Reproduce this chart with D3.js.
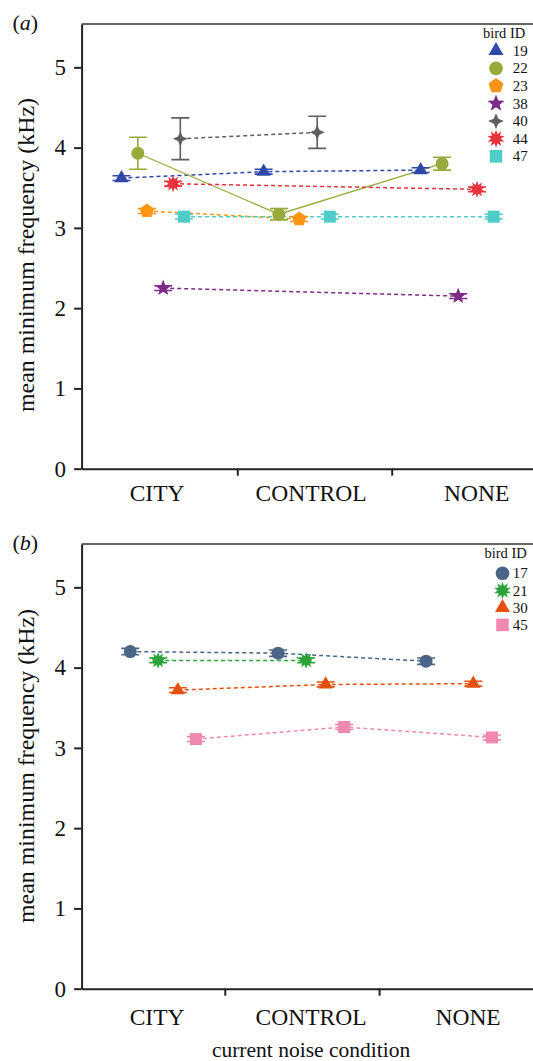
<!DOCTYPE html>
<html>
<head>
<meta charset="utf-8">
<script src="https://cdn.jsdelivr.net/npm/d3@7"></script>
<style>
  body { margin: 0; background: #fff; }
  svg { display: block; font-family: "Liberation Serif", "Times New Roman", serif; }
</style>
</head>
<body>
<svg id="chart" width="533" height="1061"></svg>
<script>
"use strict";

// ---- data ----
const categories = ["CITY", "CONTROL", "NONE"];
const yTicks = [0, 1, 2, 3, 4, 5];

// panel (a)
const birdsA = ["19", "22", "23", "38", "40", "44", "47"];
const meansA = [
  [3.62, 3.70, 3.72],
  [3.93, 3.17, 3.80],
  [3.21, 3.11, null],
  [2.25, null, 2.15],
  [4.11, 4.19, null],
  [3.55, null, 3.48],
  [3.14, 3.14, 3.14],
];
const errorsA = [
  [0.03, 0.03, 0.03],
  [0.20, 0.07, 0.08],
  [0.03, 0.03, null],
  [0.03, null, 0.03],
  [0.26, 0.20, null],
  [0.03, null, 0.03],
  [0.03, 0.03, 0.03],
];

// panel (b)
const birdsB = ["17", "21", "30", "45"];
const meansB = [
  [4.20, 4.18, 4.08],
  [4.09, 4.09, null],
  [3.72, 3.79, 3.80],
  [3.11, 3.26, 3.13],
];
const errorsB = [
  [0.04, 0.04, 0.04],
  [0.03, 0.03, null],
  [0.03, 0.03, 0.03],
  [0.03, 0.03, 0.03],
];

// ---- look ----
// horizontal jitter of each point inside its category (category units)
const jitterA = [
  [-0.231, -0.308, -0.288],
  [-0.125, -0.209, -0.149],
  [-0.066, -0.077, 0],
  [0.040, 0, -0.044],
  [0.151, 0.040, 0],
  [0.104, 0, 0.078],
  [0.175, 0.122, 0.186],
];
const jitterB = [
  [-0.174, -0.214, -0.253],
  [0.007, -0.032, 0],
  [0.135, 0.095, 0.054],
  [0.252, 0.215, 0.175],
];

const colorsA = ["#3049a8", "#99aa3d", "#ff9512", "#7c2c86", "#5f5f5f", "#e8333d", "#4fcbc8"];
const shapesA = ["triangle", "circle", "pentagon", "star", "star4", "burst", "square"];
const colorsB = ["#4a6585", "#2ca33a", "#e5500f", "#ef8aae"];
const shapesB = ["circle", "burst", "triangle", "square"];

function polyPath(n, r) {
  const pts = d3.range(n).map((i) => {
    const a = -Math.PI / 2 + (i * 2 * Math.PI) / n;
    return [r * Math.cos(a), r * Math.sin(a)];
  });
  return "M" + pts.join("L") + "Z";
}

function starPath(n, outer, inner) {
  const pts = d3.range(n * 2).map((i) => {
    const a = -Math.PI / 2 + (i * Math.PI) / n;
    const r = i % 2 === 0 ? outer : inner;
    return [r * Math.cos(a), r * Math.sin(a)];
  });
  return "M" + pts.join("L") + "Z";
}

const shapePath = {
  triangle: (s) => polyPath(3, 8.2 * s),
  circle: (s) => d3.symbol(d3.symbolCircle, Math.PI * Math.pow(6.5 * s, 2))(),
  pentagon: (s) => polyPath(5, 7.5 * s),
  star: (s) => starPath(5, 8.5 * s, 3.6 * s),
  star4: (s) => starPath(4, 7.5 * s, 3.2 * s),
  burst: (s) => starPath(10, 8.5 * s, 4.6 * s),
  square: (s) => d3.symbol(d3.symbolSquare, Math.pow(12 * s, 2))(),
};

const svg = d3.select("#chart");
const x = d3.scaleLinear().domain([0.51, 3.5]).range([81.6, 542]);

function drawPanel(p) {
  const y = d3.scaleLinear().domain([0, 5.54]).range([p.bottom, p.top]);
  const g = svg.append("g");

  // top frame line
  g.append("line")
    .attr("x1", x(0.51)).attr("x2", 533)
    .attr("y1", p.top).attr("y2", p.top)
    .attr("stroke", "#333").attr("stroke-width", 1.6);

  // y axis
  const yAxis = g.append("g")
    .attr("transform", `translate(${x(0.51)},0)`)
    .call(d3.axisLeft(y).tickValues(yTicks).tickFormat(d3.format("d"))
      .tickSize(7.5).tickPadding(8).tickSizeOuter(0));
  yAxis.attr("font-family", null);
  yAxis.select(".domain").attr("stroke", "#222").attr("stroke-width", 2);
  yAxis.selectAll(".tick line").attr("stroke", "#222").attr("stroke-width", 2);
  yAxis.selectAll(".tick text").attr("font-size", 23).attr("fill", "#111");

  // x axis: ticks between categories
  const xAxis = g.append("g")
    .attr("transform", `translate(0,${p.bottom})`)
    .call(d3.axisBottom(x).tickValues(p.sepTicks).tickSize(7).tickFormat("").tickSizeOuter(0));
  xAxis.select(".domain").attr("stroke", "#222").attr("stroke-width", 2);
  xAxis.selectAll(".tick line").attr("stroke", "#222").attr("stroke-width", 2);

  g.selectAll(".cat")
    .data(categories)
    .enter()
    .append("text")
    .attr("x", (d, i) => x(p.labelPos[i]))
    .attr("y", p.bottom + p.labelDy)
    .attr("text-anchor", "middle")
    .attr("font-size", 23.5)
    .attr("fill", "#111")
    .text((d) => d);

  // y title
  g.append("text")
    .attr("transform", `translate(34,${p.titleY}) rotate(-90)`)
    .attr("text-anchor", "middle")
    .attr("font-size", 23)
    .attr("textLength", 314)
    .attr("lengthAdjust", "spacingAndGlyphs")
    .attr("fill", "#111")
    .text("mean minimum frequency (kHz)");

  // panel label
  const lab = g.append("text")
    .attr("x", 12.5).attr("y", p.labelY)
    .attr("font-size", 22).attr("fill", "#111");
  lab.append("tspan").text("(");
  lab.append("tspan").attr("font-style", "italic").text(p.label);
  lab.append("tspan").text(")");

  // series
  const series = p.birds.map((id, b) => ({
    id,
    color: p.colors[b],
    shape: p.shapes[b],
    solid: p.solid.includes(id),
    pts: categories
      .map((c, i) => ({
        xv: i + 1 + p.jitter[b][i],
        mean: p.means[b][i],
        se: p.errors[b][i],
      }))
      .filter((d) => d.mean !== null),
  }));

  const line = d3.line().x((d) => x(d.xv)).y((d) => y(d.mean));

  g.append("g")
    .selectAll("path")
    .data(series)
    .enter()
    .append("path")
    .attr("d", (s) => line(s.pts))
    .attr("fill", "none")
    .attr("stroke", (s) => s.color)
    .attr("stroke-width", (s) => (s.solid ? 1.3 : 1.5))
    .attr("stroke-dasharray", (s) => (s.solid ? null : "4,3"));

  const sg = g.append("g")
    .selectAll("g")
    .data(series)
    .enter()
    .append("g");

  const eb = sg.selectAll(".eb")
    .data((s) => s.pts.map((d) => ({ ...d, color: s.color, shape: s.shape })))
    .enter()
    .append("g");

  eb.append("path")
    .attr("d", (d) => {
      const cx = x(d.xv), hi = y(d.mean + d.se), lo = y(d.mean - d.se), w = 9;
      return `M${cx - w},${hi}H${cx + w}M${cx},${hi}V${lo}M${cx - w},${lo}H${cx + w}`;
    })
    .attr("fill", "none")
    .attr("stroke", (d) => d.color)
    .attr("stroke-width", 1.6);

  eb.append("path")
    .attr("transform", (d) => `translate(${x(d.xv)},${y(d.mean)})`)
    .attr("d", (d) => shapePath[d.shape](1))
    .attr("fill", (d) => d.color);

  // legend
  const lg = g.append("g");
  lg.append("text")
    .attr("x", p.legendTitleX).attr("y", p.top + 14)
    .attr("font-size", 14.5).attr("fill", "#111")
    .text("bird ID");
  const rows = lg.selectAll(".row")
    .data(series)
    .enter()
    .append("g")
    .attr("transform", (s, i) => `translate(0,${p.legendY0 + i * p.legendStep})`);
  rows.append("path")
    .attr("transform", `translate(${p.legendX},0)`)
    .attr("d", (s) => shapePath[s.shape](1.05))
    .attr("fill", (s) => s.color);
  rows.append("text")
    .attr("x", 512.7).attr("y", 5)
    .attr("font-size", 15).attr("fill", "#111")
    .text((s) => s.id);
}

drawPanel({
  label: "a", labelY: 30,
  top: 24, bottom: 468.7,
  birds: birdsA, means: meansA, errors: errorsA, jitter: jitterA,
  colors: colorsA, shapes: shapesA, solid: ["22"],
  sepTicks: [1.521, 2.524], labelPos: [1, 2, 3.076], labelDy: 32,
  titleY: 255,
  legendTitleX: 483, legendX: 496, legendY0: 50.7, legendStep: 17.6,
});

drawPanel({
  label: "b", labelY: 550,
  top: 544, bottom: 988.7,
  birds: birdsB, means: meansB, errors: errorsB, jitter: jitterB,
  colors: colorsB, shapes: shapesB, solid: [],
  sepTicks: [1.44, 2.442], labelPos: [1, 2, 3.02], labelDy: 36,
  titleY: 766,
  legendTitleX: 484.5, legendX: 502.5, legendY0: 573.3, legendStep: 17.2,
});

svg.append("text")
  .attr("x", x(2))
  .attr("y", 1057)
  .attr("text-anchor", "middle")
  .attr("font-size", 21.5)
  .attr("fill", "#111")
  .text("current noise condition");
</script>
</body>
</html>
